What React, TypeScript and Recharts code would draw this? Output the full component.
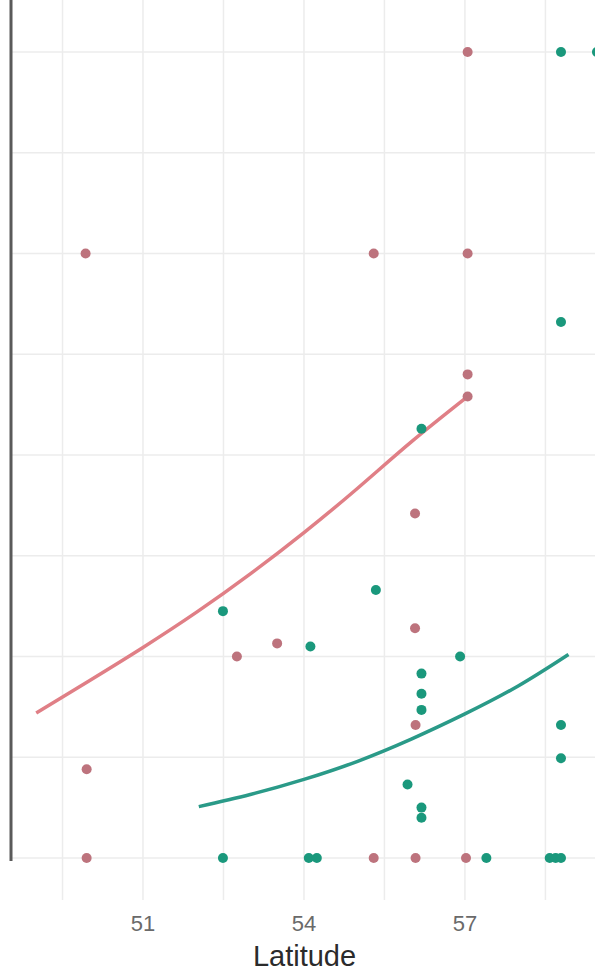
import React from 'react';
import {
  ComposedChart,
  XAxis,
  YAxis,
  Scatter,
  Line,
  ReferenceLine,
  Label,
} from 'recharts';

// Axis domains (latitude, response)
const X_MIN = 48.54;
const X_MAX = 59.48;
const Y_MIN = -0.417;
const Y_MAX = 8.516;

const GRID_X = [49.5, 51, 52.5, 54, 55.5, 57, 58.5];
const MAJOR_X = [51, 54, 57];
const GRID_Y = [0, 1, 2, 3, 4, 5, 6, 7, 8];

// Red group observations
const RED_LAT = [57.05, 49.93, 55.3, 57.05, 57.05, 57.05, 56.07, 56.07, 52.75, 53.5, 49.95, 56.08, 49.95, 55.3, 56.08, 57.02];
const RED_VAL = [8.0, 6.0, 6.0, 6.0, 4.8, 4.58, 3.42, 2.28, 2.0, 2.13, 0.88, 1.32, 0, 0, 0, 0];

// Teal group observations
const TEAL_LAT = [58.79, 58.79, 56.19, 52.49, 55.34, 54.12, 56.91, 56.19, 56.19, 56.19, 55.93, 56.19, 56.19, 58.79, 58.79, 52.49, 54.09, 54.24, 57.4, 58.58, 58.69, 58.79, 59.46];
const TEAL_VAL = [8.0, 5.32, 4.26, 2.45, 2.66, 2.1, 2.0, 1.83, 1.63, 1.47, 0.73, 0.5, 0.4, 1.32, 0.99, 0, 0, 0, 0, 0, 0, 0, 8.0];

// Fitted curves
const RED_FIT_LAT = [49.01, 50.0, 51.0, 52.0, 53.0, 54.0, 55.0, 56.0, 57.05];
const RED_FIT_VAL = [1.44, 1.76, 2.09, 2.44, 2.82, 3.23, 3.67, 4.13, 4.58];
const TEAL_FIT_LAT = [52.04, 53.0, 54.0, 55.0, 56.0, 57.0, 58.0, 58.93];
const TEAL_FIT_VAL = [0.51, 0.63, 0.78, 0.96, 1.18, 1.43, 1.71, 2.02];

const RED_PT = '#bd737d';
const TEAL_PT = '#1a987c';
const RED_LINE = '#e07f86';
const TEAL_LINE = '#2a9a88';
const GRID = '#ececec';

const zip = (xs: number[], ys: number[]) => xs.map((x, i) => ({ x, y: ys[i] }));

const redPts = zip(RED_LAT, RED_VAL);
const tealPts = zip(TEAL_LAT, TEAL_VAL);
const redFit = zip(RED_FIT_LAT, RED_FIT_VAL);
const tealFit = zip(TEAL_FIT_LAT, TEAL_FIT_VAL);

const dot = (color: string) => (props: any) => (
  <circle cx={props.cx} cy={props.cy} r={5} fill={color} />
);

export default function App() {
  return (
    <div
      style={{
        position: 'fixed',
        left: 0,
        top: 0,
        width: 595,
        height: 973,
        overflow: 'hidden',
        background: '#ffffff',
      }}
    >
      <ComposedChart
        width={598}
        height={973}
        margin={{ top: 0, right: 0, bottom: 0, left: 11 }}
      >
        <XAxis
          type="number"
          dataKey="x"
          domain={[X_MIN, X_MAX]}
          allowDataOverflow
          ticks={MAJOR_X}
          interval={0}
          axisLine={false}
          tickLine={false}
          tickSize={0}
          tickMargin={15}
          height={73}
          tick={{ fontSize: 22, fill: '#6a6a6a', fontFamily: 'Liberation Sans, Arial, sans-serif' }}
        >
          <Label
            value="Latitude"
            position="insideBottom"
            offset={7}
            style={{ fontSize: 29, fill: '#2b2b2b', fontFamily: 'Liberation Sans, Arial, sans-serif' }}
          />
        </XAxis>
        <YAxis
          type="number"
          dataKey="y"
          hide
          domain={[Y_MIN, Y_MAX]}
          allowDataOverflow
          ticks={GRID_Y}
          interval={0}
        />
        {GRID_X.map((v) => (
          <ReferenceLine key={'gx' + v} x={v} stroke={GRID} strokeWidth={1.5} />
        ))}
        {GRID_Y.map((v) => (
          <ReferenceLine key={'gy' + v} y={v} stroke={GRID} strokeWidth={1.5} />
        ))}
        <ReferenceLine
          segment={[
            { x: X_MIN, y: -0.03 },
            { x: X_MIN, y: Y_MAX },
          ]}
          stroke="#5a5a5a"
          strokeWidth={3}
          ifOverflow="visible"
        />
        <Line
          data={redFit}
          dataKey="y"
          type="natural"
          stroke={RED_LINE}
          strokeWidth={3.5}
          dot={false}
          activeDot={false}
          isAnimationActive={false}
        />
        <Line
          data={tealFit}
          dataKey="y"
          type="natural"
          stroke={TEAL_LINE}
          strokeWidth={3.5}
          dot={false}
          activeDot={false}
          isAnimationActive={false}
        />
        <Scatter data={redPts} dataKey="y" shape={dot(RED_PT)} isAnimationActive={false} />
        <Scatter data={tealPts} dataKey="y" shape={dot(TEAL_PT)} isAnimationActive={false} />
      </ComposedChart>
    </div>
  );
}
